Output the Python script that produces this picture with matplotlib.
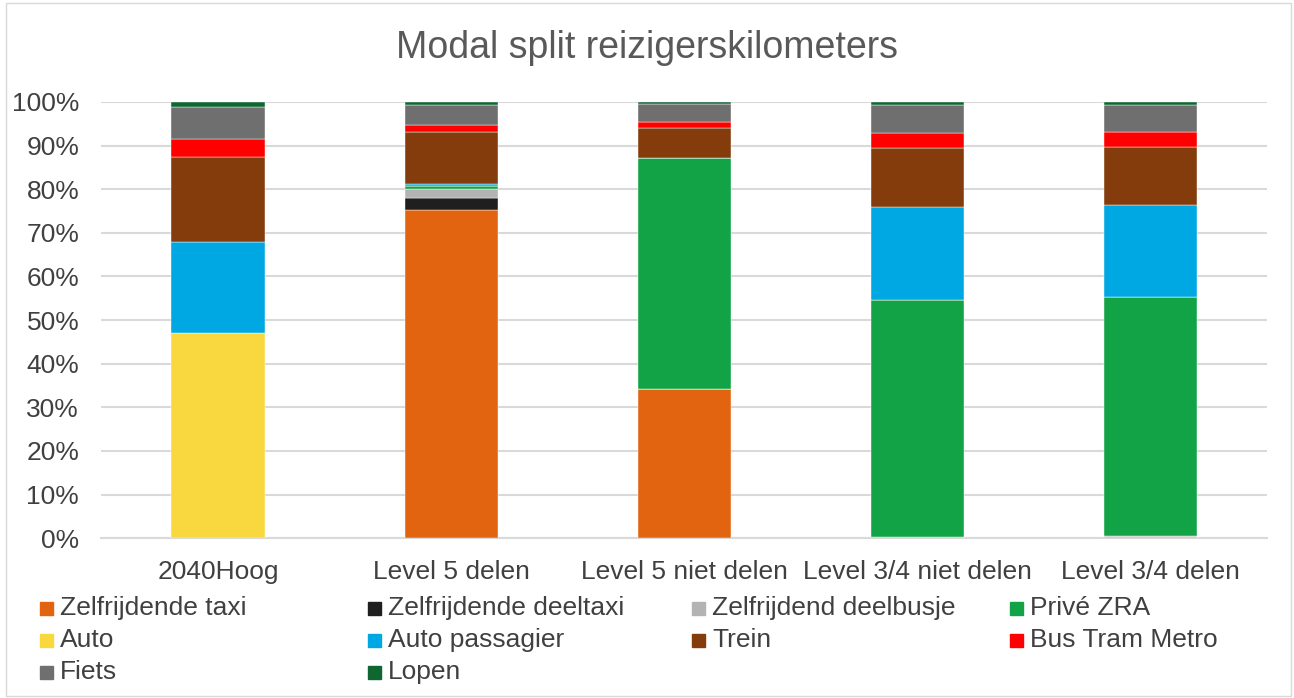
import matplotlib
matplotlib.use("Agg")
import matplotlib.pyplot as plt
import numpy as np
from matplotlib.patches import Rectangle
from matplotlib.ticker import FuncFormatter

plt.rcParams['font.family'] = ['Liberation Sans', 'DejaVu Sans']

scenarios = ["2040Hoog", "Level 5 delen", "Level 5 niet delen",
             "Level 3/4 niet delen", "Level 3/4 delen"]

modes = ["Zelfrijdende taxi", "Zelfrijdende deeltaxi", "Zelfrijdend deelbusje",
         "Privé ZRA", "Auto", "Auto passagier", "Trein", "Bus Tram Metro",
         "Fiets", "Lopen"]

# share in % per scenario (same order as scenarios)
zelfrijdende_taxi = [0.0, 75.2, 34.3, 0.0, 0.2]
zelfrijdende_deeltaxi = [0.0, 2.7, 0.0, 0.0, 0.0]
zelfrijdend_deelbusje = [0.0, 2.1, 0.0, 0.2, 0.4]
prive_zra = [0.0, 0.7, 52.8, 54.4, 54.7]
auto = [47.1, 0.0, 0.0, 0.0, 0.0]
auto_passagier = [20.9, 0.4, 0.0, 21.2, 21.1]
trein = [19.3, 11.9, 7.0, 13.6, 13.2]
bus_tram_metro = [4.1, 1.7, 1.3, 3.4, 3.4]
fiets = [7.4, 4.5, 4.1, 6.4, 6.2]
lopen = [1.2, 0.8, 0.5, 0.8, 0.8]

series = [zelfrijdende_taxi, zelfrijdende_deeltaxi, zelfrijdend_deelbusje,
          prive_zra, auto, auto_passagier, trein, bus_tram_metro, fiets, lopen]

colors = ["#E36410", "#1F1F1F", "#B3B3B3", "#11A345", "#F8D83E",
          "#00A8E3", "#843C0C", "#FF0000", "#6F6F6F", "#0E6630"]

fig = plt.figure(figsize=(12.94, 6.98), dpi=100)
ax = fig.add_axes([0.0784, 0.229, 0.901, 0.625])

x = np.arange(len(scenarios))
bottom = np.zeros(len(scenarios))
for name, vals, col in zip(modes, series, colors):
    vals = np.array(vals)
    ax.bar(x, vals, 0.4, bottom=bottom, color=col, label=name,
           edgecolor="white", linewidth=0.3, zorder=3)
    bottom += vals

ax.set_xlim(-0.5, len(scenarios) - 0.5)
ax.set_ylim(0, 100)
ax.set_yticks(np.arange(0, 101, 10))
ax.yaxis.set_major_formatter(FuncFormatter(lambda v, p: f"{v:.0f}%"))
ax.set_xticks(x)
ax.set_xticklabels(scenarios)
ax.tick_params(axis="both", length=0, labelsize=19, colors="#404040")
ax.tick_params(axis="y", pad=16)
ax.tick_params(axis="x", pad=16)
ax.grid(axis="y", color="#D9D9D9", linewidth=1.5, zorder=0)
for s in ["top", "right", "left"]:
    ax.spines[s].set_visible(False)
ax.spines["bottom"].set_color("#D9D9D9")
ax.spines["bottom"].set_linewidth(1.5)

fig.text(0.5, 0.931, "Modal split reizigerskilometers", ha="center", va="center",
         fontsize=27, color="#595959")

# legend, four fixed columns like the original
col_x = [40, 368, 692, 1010]
row_y = [608, 640, 672]
W, H = 1294, 698
for i, (name, col) in enumerate(zip(modes, colors)):
    r, c = divmod(i, 4)
    mx, my = col_x[c], row_y[r]
    fig.add_artist(Rectangle((mx / W, (H - my - 6.5) / H), 13 / W, 13 / H,
                             transform=fig.transFigure, color=col))
    fig.text((mx + 20) / W, (H - my) / H, name, ha="left", va="center",
             fontsize=19, color="#404040")

fig.add_artist(Rectangle((6 / W, 2 / H), (W - 9) / W, (H - 5) / H,
                         transform=fig.transFigure, fill=False,
                         edgecolor="#D9D9D9", linewidth=1))

fig.savefig("out.png", dpi=100)
